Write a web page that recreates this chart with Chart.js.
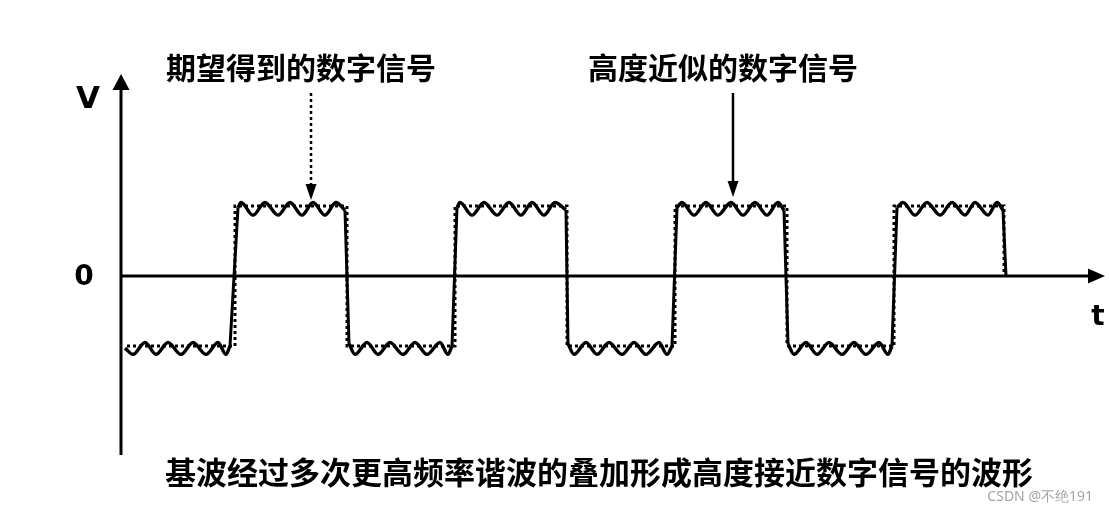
<!DOCTYPE html>
<html>
<head>
<meta charset="utf-8">
<script src="https://cdn.jsdelivr.net/npm/chart.js@4.4.0/dist/chart.umd.min.js"></script>
<style>
body { margin: 0; background: #fff; }
</style>
</head>
<body>
<canvas id="wave" width="1109" height="513"></canvas>
<script>
// 近似波形: 基波 + 高次谐波 (t, V); null = 跳变沿 (直线连接)
var approx_t = [4, 12, 24, 35, 47, 60, 72, 85, 97, 105, 109, null,
    117, 120, 132, 144, 157, 169, 181, 192, 204, 215, 224, null,
    228, 234, 246, 257, 269, 282, 294, 306, 319, 327, 331, null,
    336, 339, 351, 363, 376, 388, 400, 411, 423, 434, 445, null,
    447, 453, 465, 476, 488, 501, 513, 525, 538, 546, 551, null,
    556, 561, 573, 585, 597, 610, 622, 634, 646, 657, 663, null,
    667, 673, 685, 696, 708, 721, 733, 745, 758, 767, 771, null,
    776, 782, 794, 806, 819, 831, 844, 854, 867, 876, 882, null,
    885];
var approx_v = [-1.03, -1.12, -0.95, -1.12, -0.95, -1.12, -0.95, -1.12, -0.95, -1.12, -1.0, null,
    0.98, 1.05, 0.87, 1.05, 0.87, 1.05, 0.87, 1.05, 0.87, 1.05, 0.94, null,
    -0.97, -1.12, -0.95, -1.12, -0.95, -1.12, -0.95, -1.12, -0.95, -1.12, -1.0, null,
    0.98, 1.05, 0.87, 1.05, 0.87, 1.05, 0.87, 1.05, 0.87, 1.05, 0.94, null,
    -0.97, -1.12, -0.95, -1.12, -0.95, -1.12, -0.95, -1.12, -0.95, -1.12, -1.0, null,
    0.98, 1.05, 0.87, 1.05, 0.87, 1.05, 0.87, 1.05, 0.87, 1.05, 0.94, null,
    -0.97, -1.12, -0.95, -1.12, -0.95, -1.12, -0.95, -1.12, -0.95, -1.12, -1.0, null,
    0.98, 1.05, 0.87, 1.05, 0.87, 1.05, 0.87, 1.05, 0.87, 1.05, 0.94, null,
    0];

// 期望得到的数字信号 (理想方波)
var ideal_t = [6, 114, 114, 226, 226, 334, 334, 446, 446, 554, 554, 666, 666, 773, 773, 883, 883];
var ideal_v = [-1, -1, 1, 1, -1, -1, 1, 1, -1, -1, 1, 1, -1, -1, 1, 1, 0];

// 标注: 文字 和 箭头指向的 t / V
var note_text = ['期望得到的数字信号', '高度近似的数字信号'];
var note_t = [190, 612];
var note_v = [1.086, 1.13];
var note_dotted = [true, false];

var axis_labels = ['V', '0', 't'];
var caption = '基波经过多次更高频率谐波的叠加形成高度接近数字信号的波形';
var watermark = 'CSDN @不绝191';

var t_max = 984;
var v_min = -2.557;
var v_max = 2.886;

function toPoints(xs, ys) {
    var pts = [];
    for (let i = 0; i < xs.length; i++) {
        if (xs[i] === null) { pts.push({x: NaN, y: null}); continue; }
        pts.push({x: xs[i], y: ys[i]});
    }
    return pts;
}

// straight edges: join the points on both sides of each null gap
function edgePoints(xs, ys) {
    var pts = [];
    for (let i = 1; i < xs.length - 1; i++) {
        if (xs[i] === null) {
            pts.push({x: xs[i - 1], y: ys[i - 1]});
            pts.push({x: xs[i + 1], y: ys[i + 1]});
            pts.push({x: xs[i + 1], y: null});
        }
    }
    return pts;
}

function head(ctx, x, y, dx, dy, len, half) {
    var bx = x - dx * len, by = y - dy * len;
    ctx.beginPath();
    ctx.moveTo(x, y);
    ctx.lineTo(bx - dy * half, by + dx * half);
    ctx.lineTo(bx + dy * half, by - dx * half);
    ctx.closePath();
    ctx.fill();
}

var axesPlugin = {
    id: 'axes',
    beforeDatasetsDraw: function(chart) {
        var ctx = chart.ctx;
        var xs = chart.scales.x, ys = chart.scales.y;
        var x0 = xs.getPixelForValue(0);
        var y0 = ys.getPixelForValue(0);
        var yTop = ys.getPixelForValue(v_max);
        var yBot = ys.getPixelForValue(v_min);
        var xEnd = xs.getPixelForValue(t_max);
        ctx.save();
        ctx.strokeStyle = '#000';
        ctx.fillStyle = '#000';
        ctx.lineWidth = 3;
        ctx.beginPath();
        ctx.moveTo(x0, yBot);
        ctx.lineTo(x0, yTop + 10);
        ctx.moveTo(x0, y0);
        ctx.lineTo(xEnd - 10, y0);
        ctx.stroke();
        head(ctx, x0, yTop, 0, -1, 16, 8.5);
        head(ctx, xEnd, y0, 1, 0, 17, 7.5);
        ctx.restore();
    },
    afterDatasetsDraw: function(chart) {
        var ctx = chart.ctx;
        var xs = chart.scales.x, ys = chart.scales.y;
        var area = chart.chartArea;
        var y0 = ys.getPixelForValue(0);
        ctx.save();
        ctx.fillStyle = '#000';
        ctx.strokeStyle = '#000';
        ctx.textAlign = 'center';
        ctx.textBaseline = 'middle';

        ctx.font = 'bold 31px "DejaVu Sans"';
        ctx.fillText(axis_labels[0], area.left - 33, area.top + 26);
        ctx.font = 'bold 28px "DejaVu Sans"';
        ctx.fillText(axis_labels[1], area.left - 37, y0 + 2);
        ctx.fillText(axis_labels[2], area.right - 7, y0 + 42);

        for (let i = 0; i < note_text.length; i++) {
            var px = xs.getPixelForValue(note_t[i]);
            var tip = ys.getPixelForValue(note_v[i]);
            ctx.font = 'bold 30px "Noto Sans CJK SC"';
            ctx.fillText(note_text[i], px - 10, area.top - 6);
            ctx.lineWidth = 2.5;
            ctx.setLineDash(note_dotted[i] ? [3, 3] : []);
            ctx.beginPath();
            ctx.moveTo(px, area.top + 19);
            ctx.lineTo(px, tip - 14);
            ctx.stroke();
            ctx.setLineDash([]);
            head(ctx, px, tip, 0, 1, 16, 5.5);
        }

        ctx.font = 'bold 31px "Noto Sans CJK SC"';
        ctx.fillText(caption, area.left + 478, area.bottom + 17);

        ctx.font = '14px "Noto Sans"';
        ctx.fillStyle = '#a3a3a3';
        ctx.textAlign = 'right';
        ctx.fillText(watermark, 1093, 497);
        ctx.restore();
    }
};

function chart() {
    var ctx = document.getElementById('wave').getContext('2d');
    var c = new Chart(ctx, {
        type: 'line',
        data: {
            datasets: [{
                label: '期望得到的数字信号',
                data: toPoints(ideal_t, ideal_v),
                borderColor: '#000',
                borderWidth: 3,
                borderDash: [3, 3],
                pointRadius: 0,
                tension: 0,
                clip: false
            }, {
                label: '高度近似的数字信号',
                data: toPoints(approx_t, approx_v),
                borderColor: '#000',
                borderWidth: 3.4,
                pointRadius: 0,
                cubicInterpolationMode: 'monotone',
                spanGaps: false,
                clip: false
            }, {
                label: 'edges',
                data: edgePoints(approx_t, approx_v),
                borderColor: '#000',
                borderWidth: 3,
                pointRadius: 0,
                tension: 0,
                spanGaps: false,
                clip: false
            }]
        },
        options: {
            responsive: false,
            animation: false,
            parsing: false,
            layout: { padding: { left: 121, right: 4, top: 74, bottom: 58 } },
            plugins: { legend: { display: false }, tooltip: { enabled: false } },
            scales: {
                x: { type: 'linear', min: 0, max: t_max, display: false },
                y: { type: 'linear', min: v_min, max: v_max, display: false }
            }
        },
        plugins: [axesPlugin]
    });
}

chart();
</script>
</body>
</html>
